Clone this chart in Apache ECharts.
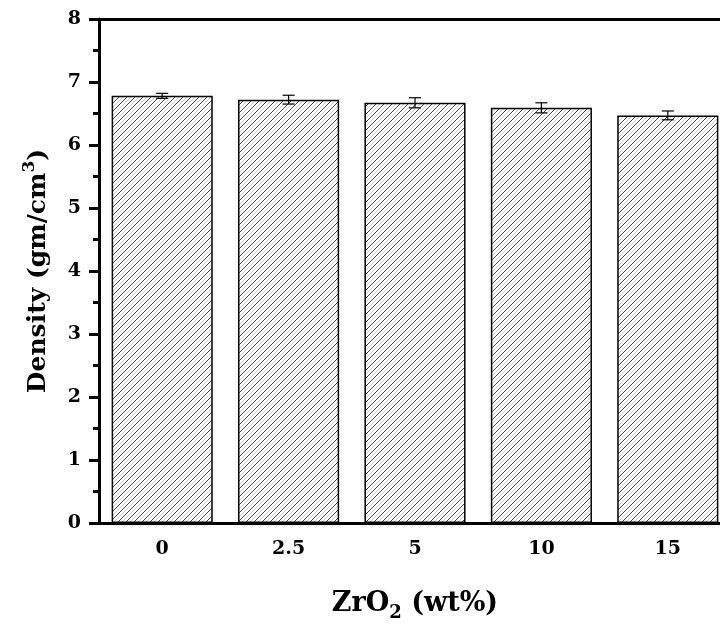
<!DOCTYPE html>
<html>
<head>
<meta charset="utf-8">
<script src="https://cdn.jsdelivr.net/npm/echarts@6/dist/echarts.min.js"></script>
<style>
html, body { margin: 0; padding: 0; background: #fff; }
#main { width: 720px; height: 626px; }
</style>
</head>
<body>
<div id="main"></div>
<script>
var categories = ['0', '2.5', '5', '10', '15'];
var density = [6.78, 6.72, 6.67, 6.59, 6.47];
var densityErr = [0.04, 0.07, 0.08, 0.08, 0.07];

// hatch tile for the bars
function hatch() {
    var c = document.createElement('canvas');
    c.width = 8; c.height = 8;
    var g = c.getContext('2d');
    g.fillStyle = '#fff';
    g.fillRect(0, 0, 8, 8);
    g.lineWidth = 1;
    g.strokeStyle = '#cfcfcf';
    g.beginPath();
    g.moveTo(-4, 8); g.lineTo(4, 0);
    g.moveTo(4, 8); g.lineTo(12, 0);
    g.stroke();
    g.strokeStyle = '#444';
    g.beginPath();
    g.moveTo(0, 8); g.lineTo(8, 0);
    g.moveTo(-1, 1); g.lineTo(1, -1);
    g.moveTo(7, 9); g.lineTo(9, 7);
    g.stroke();
    return c;
}

var font = '"DejaVu Serif", serif';
var myChart = echarts.init(document.getElementById('main'));

var option = {
    animation: false,
    grid: { left: 99, top: 19, width: 632, bottom: 103, containLabel: false, outerBoundsMode: 'none' },
    xAxis: [
        {
            type: 'category',
            data: categories,
            axisLine: { lineStyle: { color: '#000', width: 3 } },
            axisTick: { alignWithLabel: true, length: 10, lineStyle: { width: 3, color: '#000' } },
            axisLabel: { color: '#000', fontFamily: font, fontSize: 19, fontWeight: 'bold', margin: 17 },
            name: '{b|ZrO}{s|2}{b| (wt%)}',
            nameLocation: 'middle',
            nameGap: 63,
            nameTextStyle: {
                rich: {
                    b: { fontFamily: font, fontWeight: 'bold', fontSize: 27, color: '#000', lineHeight: 36 },
                    s: { fontFamily: font, fontWeight: 'bold', fontSize: 18, color: '#000', lineHeight: 36, verticalAlign: 'bottom', padding: [10, 0, 0, 0] }
                }
            }
        },
        {
            type: 'category',
            position: 'top',
            data: categories,
            axisLine: { lineStyle: { color: '#000', width: 3 } },
            axisTick: { show: false },
            axisLabel: { show: false }
        }
    ],
    yAxis: {
        type: 'value',
        min: 0,
        max: 8,
        interval: 1,
        axisLine: { show: true, lineStyle: { color: '#000', width: 3 } },
        axisTick: { show: true, length: 10, lineStyle: { width: 3, color: '#000' } },
        minorTick: { show: true, splitNumber: 2, length: 6, lineStyle: { width: 3, color: '#000' } },
        splitLine: { show: false },
        axisLabel: { color: '#000', fontFamily: font, fontSize: 19, fontWeight: 'bold', margin: 18 },
        name: '{b|Density (gm/cm}{p|3}{b|)}',
        nameLocation: 'middle',
        nameRotate: 90,
        nameGap: 44,
        nameTextStyle: {
            rich: {
                b: { fontFamily: font, fontWeight: 'bold', fontSize: 25, color: '#000', lineHeight: 34 },
                p: { fontFamily: font, fontWeight: 'bold', fontSize: 17, color: '#000', lineHeight: 34, verticalAlign: 'top' }
            }
        }
    },
    series: [
        {
            type: 'bar',
            data: density,
            barCategoryGap: '20%',
            itemStyle: {
                color: { image: hatch(), repeat: 'repeat' },
                borderColor: '#000',
                borderWidth: 1.5
            }
        },
        {
            type: 'custom',
            data: density.map(function (v, i) { return [i, v - densityErr[i], v + densityErr[i]]; }),
            renderItem: function (params, api) {
                var lo = api.coord([api.value(0), api.value(1)]);
                var hi = api.coord([api.value(0), api.value(2)]);
                var w = 6;
                var st = { stroke: '#000', lineWidth: 1.2 };
                return {
                    type: 'group',
                    children: [
                        { type: 'line', shape: { x1: hi[0], y1: hi[1], x2: lo[0], y2: lo[1] }, style: st },
                        { type: 'line', shape: { x1: hi[0] - w, y1: hi[1], x2: hi[0] + w, y2: hi[1] }, style: st },
                        { type: 'line', shape: { x1: lo[0] - w, y1: lo[1], x2: lo[0] + w, y2: lo[1] }, style: st }
                    ]
                };
            },
            z: 10
        }
    ]
};
myChart.setOption(option);
</script>
</body>
</html>
